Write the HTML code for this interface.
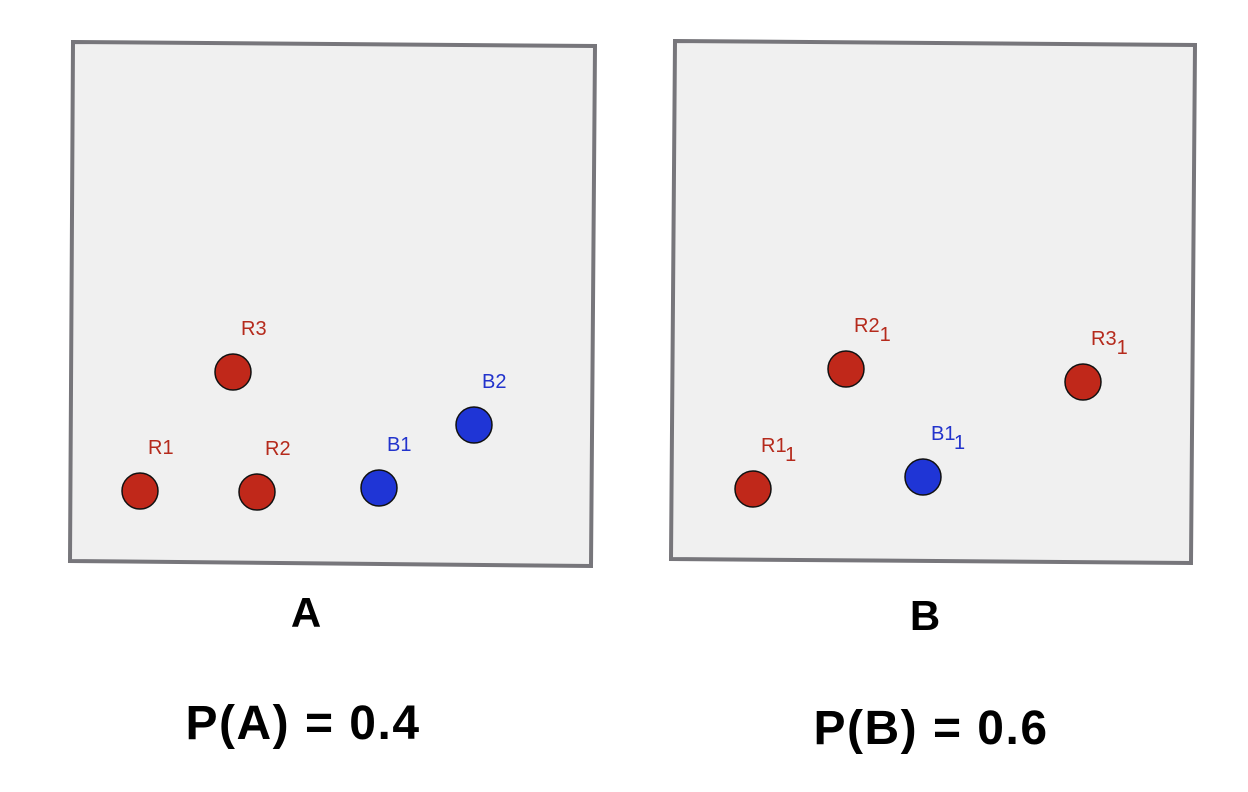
<!DOCTYPE html>
<html><head><meta charset="utf-8"><style>
body{margin:0;background:#fff;}
svg{display:block;font-family:"Liberation Sans",Arial,sans-serif;}
</style></head><body>
<svg width="1248" height="792" viewBox="0 0 1248 792">
<polygon points="73,42 595,46 591,566 70,561" fill="#f0f0f0" stroke="#77767b" stroke-width="4"/>
<polygon points="675,41 1195,45 1191,563 671,559" fill="#f0f0f0" stroke="#77767b" stroke-width="4"/>
<g id="pts"></g>
<text x="306" y="627" font-size="42" font-weight="bold" text-anchor="middle">A</text>
<text x="925" y="630" font-size="42" font-weight="bold" text-anchor="middle">B</text>
<text x="303" y="739" font-size="48" font-weight="bold" letter-spacing="1.5" text-anchor="middle">P(A) = 0.4</text>
<text x="931" y="744" font-size="48" font-weight="bold" letter-spacing="1.5" text-anchor="middle">P(B) = 0.6</text>
</svg>
<script>
const pointNames=["R1","R2","R3","B1","B2","R1","R2","R3","B1"];
const pointSubs=["","","","","","1","1","1","1"];
const pointX=[140,257,233,379,474,753,846,1083,923];
const pointY=[491,492,372,488,425,489,369,382,477];
const NS="http://www.w3.org/2000/svg";
const g=document.getElementById('pts');
for(let i=0;i<pointNames.length;i++){
  const blue=pointNames[i][0]==="B";
  const c=document.createElementNS(NS,'circle');
  
  
  c.setAttribute('cx',pointX[i]);c.setAttribute('cy',pointY[i]);c.setAttribute('r',18);
  c.setAttribute('fill',blue?'#1f35d6':'#c0281a');c.setAttribute('stroke','#111');c.setAttribute('stroke-width','1.5');
  g.appendChild(c);
  const t=document.createElementNS(NS,'text');
  
  
  t.setAttribute('x',pointX[i]+8);t.setAttribute('y',pointY[i]-37);
  t.setAttribute('font-size','20');t.setAttribute('fill',blue?'#2233cc':'#b52a1c');
  t.textContent=pointNames[i];
  if(pointSubs[i]){const s=document.createElementNS(NS,'tspan');s.setAttribute('dy','9');s.textContent=pointSubs[i];t.appendChild(s);}
  g.appendChild(t);
}
</script>
</body></html>
